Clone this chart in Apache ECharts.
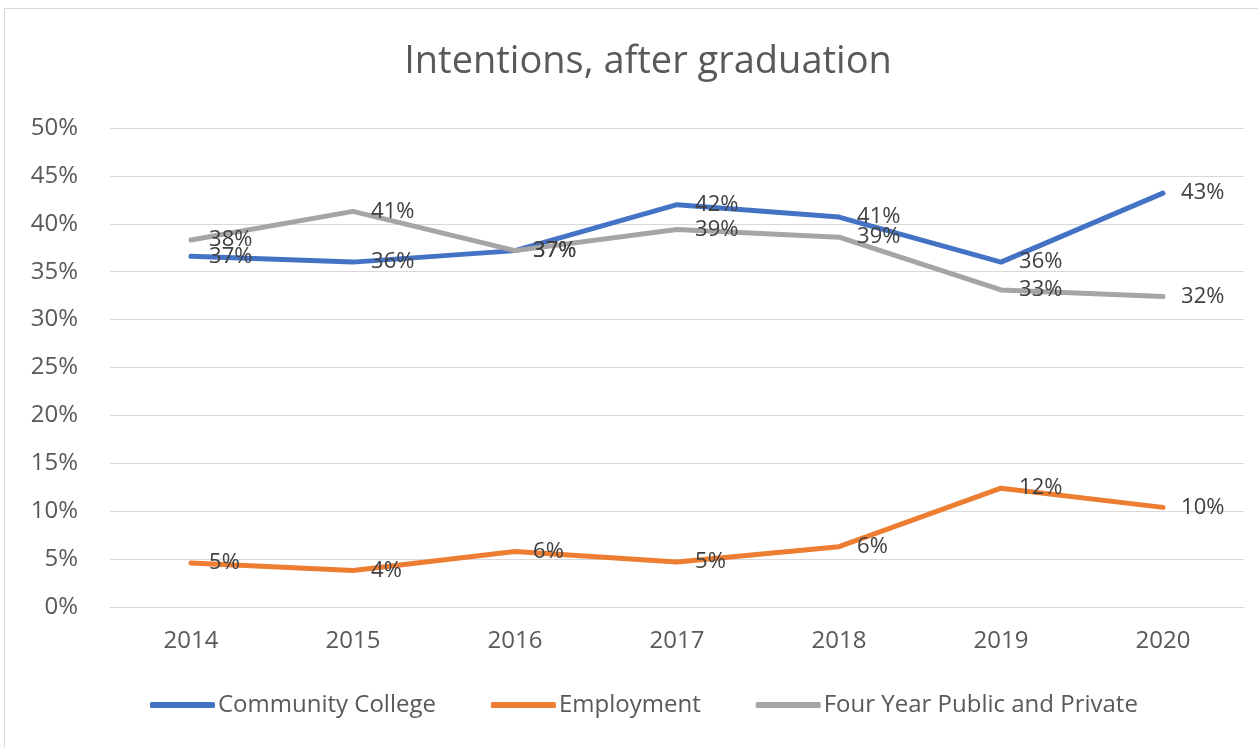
<!DOCTYPE html>
<html>
<head>
<meta charset="utf-8">
<script src="https://cdn.jsdelivr.net/npm/echarts@6/dist/echarts.min.js"></script>
<style>
  html, body { margin: 0; padding: 0; background: #fff; }
  #frame {
    position: absolute; left: 4px; top: 8px; width: 1270px; height: 760px;
    border: 1px solid #d9d9d9; box-sizing: border-box;
  }
  #chart { position: absolute; left: 0; top: 0; width: 1258px; height: 748px; }
</style>
</head>
<body>
<div id="frame"></div>
<div id="chart"></div>
<script>
// 数据
const years = ['2014', '2015', '2016', '2017', '2018', '2019', '2020']
const communityCollege = [36.6, 36.0, 37.2, 42.0, 40.7, 36.0, 43.2]
const employment = [4.6, 3.8, 5.8, 4.7, 6.3, 12.4, 10.4]
const fourYear = [38.3, 41.3, 37.2, 39.4, 38.6, 33.1, 32.4]

const fontFamily = '"Open Sans", sans-serif'
const textColor = '#595959'

// 折线 + 数据标签（标签挂在符号上，所以符号保留但做成很小）
const makeSeries = (name, data, color) => ({
  name: name,
  type: 'line',
  data: data,
  symbol: 'circle',
  symbolSize: 0.1,
  showSymbol: true,
  lineStyle: { width: 5, color: color, cap: 'round', join: 'round' },
  itemStyle: { color: color },
  label: {
    show: true,
    position: 'right',
    distance: 18,
    color: '#404040',
    fontSize: 22,
    fontFamily: fontFamily,
    formatter: p => Math.round(p.value) + '%'
  }
})

const myChart = echarts.init(document.getElementById('chart'))
const option = {
  animation: false,
  textStyle: { fontFamily: fontFamily },
  title: {
    text: 'Intentions, after graduation',
    left: 643,
    textAlign: 'center',
    top: 38,
    textStyle: { fontSize: 38, fontWeight: 'normal', color: textColor, fontFamily: fontFamily }
  },
  legend: {
    bottom: 26,
    left: 145,
    itemWidth: 65,
    itemHeight: 6,
    itemGap: 55,
    icon: 'roundRect',
    textStyle: { fontSize: 24, color: textColor, padding: [0, 0, 0, -2] },
    data: ['Community College', 'Employment', 'Four Year Public and Private']
  },
  grid: { left: 110, right: 14, top: 128, bottom: 141 },
  xAxis: {
    type: 'category',
    data: years,
    boundaryGap: true,
    axisLine: { lineStyle: { color: '#d9d9d9', width: 1 } },
    axisTick: { show: false },
    axisLabel: { color: textColor, fontSize: 24, margin: 22 }
  },
  yAxis: {
    type: 'value',
    min: 0,
    max: 50,
    interval: 5,
    axisLine: { show: false },
    axisTick: { show: false },
    splitLine: { lineStyle: { color: '#d9d9d9', width: 1 } },
    axisLabel: { color: textColor, fontSize: 24, margin: 32, formatter: v => v + '%' }
  },
  series: [
    makeSeries('Community College', communityCollege, '#4472c4'),
    makeSeries('Employment', employment, '#ed7d31'),
    makeSeries('Four Year Public and Private', fourYear, '#a5a5a5')
  ]
}
myChart.setOption(option)
</script>
</body>
</html>
